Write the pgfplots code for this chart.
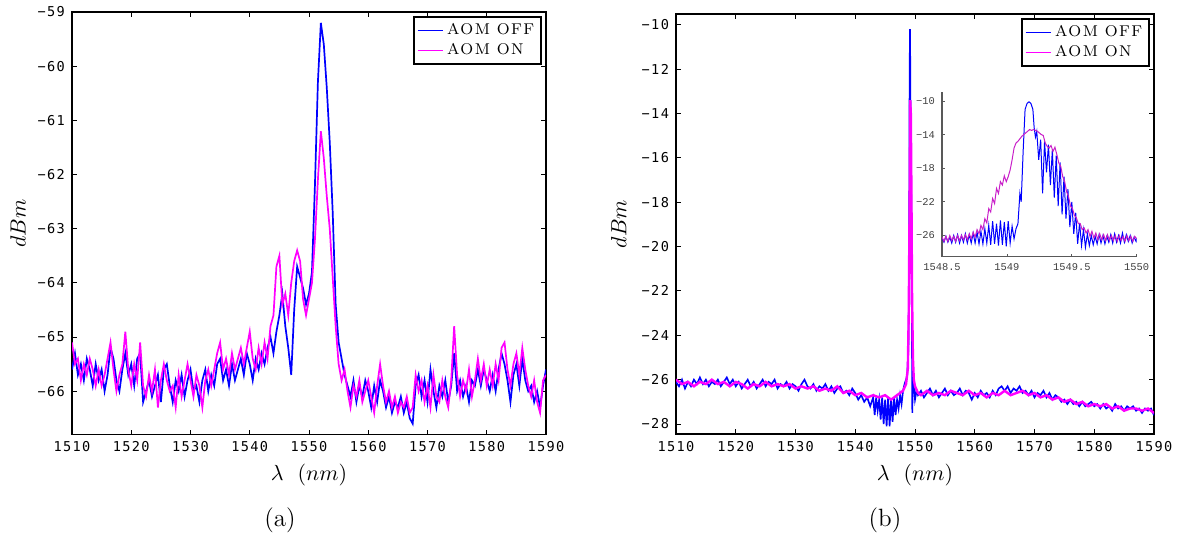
\documentclass[border=0pt]{standalone}
\usepackage{fontspec}
\usepackage{pgfplots}
\pgfplotsset{compat=1.18}
\newfontfamily\tickfont[LetterSpace=10]{DejaVu Sans Mono}
\newfontfamily\insetfont{Liberation Mono}
\newfontfamily\legfont[LetterSpace=9]{Latin Modern Roman}
\definecolor{aomoff}{RGB}{0,0,255}
\definecolor{aomon}{RGB}{255,0,255}
\definecolor{aomonin}{RGB}{200,30,200}

\pgfplotsset{
  spec/.style={
    scale only axis,
    axis line style={line width=0.7pt},
    tick style={black, line width=0.5pt},
    major tick length=2.5pt,
    tick align=inside,
    /pgf/number format/assume math mode=true,
    tick label style={font=\tickfont\fontsize{6.8}{8}\selectfont},
    xmin=1510, xmax=1590,
    xtick={1510,1520,...,1590},
    xticklabels={1510,1520,1530,1540,1550,1560,1570,1580,1590},
    xlabel={$\lambda\ \ (nm)$},
    ylabel={$dBm$},
    xlabel style={font=\fontsize{10.5}{12}\selectfont, at={(axis description cs:0.5,-0.097)}, anchor=center},
    legend style={at={(1,1)}, anchor=north east, xshift=-2pt, yshift=-2pt,
      draw=black, line width=0.8pt, inner sep=1.5pt, row sep=-1.5pt,
      font=\legfont\fontsize{7.8}{9}\selectfont, cells={anchor=west}},
    legend image code/.code={\draw[#1, line width=0.5pt] (0pt,0pt) -- (12.5pt,0pt);},
  }
}

\begin{document}
\begin{tikzpicture}
\path[use as bounding box] (0,0) rectangle (593.5pt,-269pt);

% (a) spectrum, 1510-1590 nm
\begin{axis}[spec,
  at={(36pt,-6pt)}, anchor=north west,
  width=237pt, height=211.25pt,
  ymin=-66.8, ymax=-59,
  ytick={-66,-65,...,-59},
  yticklabels={−66,−65,−64,−63,−62,−61,−60,−59},
  ylabel style={font=\fontsize{11}{12}\selectfont, at={(axis description cs:-0.114,0.5)}, anchor=center},
]
\addplot[aomoff, line width=0.85pt] coordinates {
(1510.0,-65.6) (1510.5,-65.3) (1511.0,-65.7) (1511.5,-65.5) (1512.0,-65.8) (1512.5,-65.4) (1513.0,-65.6) (1513.5,-65.9)
(1514.0,-65.5) (1514.5,-65.8) (1515.0,-65.6) (1515.5,-66.0) (1516.0,-65.7) (1516.5,-65.2) (1517.0,-65.4) (1517.5,-65.8)
(1518.0,-66.0) (1518.5,-65.6) (1519.0,-65.3) (1519.5,-65.7) (1520.0,-65.5) (1520.5,-65.9) (1521.0,-65.4) (1521.5,-65.3)
(1522.0,-66.2) (1522.5,-66.0) (1523.0,-65.8) (1523.5,-66.1) (1524.0,-65.9) (1524.5,-65.7) (1525.0,-66.2) (1525.5,-65.6)
(1526.0,-65.5) (1526.5,-65.9) (1527.0,-66.2) (1527.5,-65.8) (1528.0,-66.0) (1528.5,-65.7) (1529.0,-66.1) (1529.5,-65.8)
(1530.0,-65.6) (1530.5,-66.0) (1531.0,-65.9) (1531.5,-66.2) (1532.0,-65.8) (1532.5,-65.6) (1533.0,-66.0) (1533.5,-65.7)
(1534.0,-65.9) (1534.5,-65.5) (1535.0,-65.4) (1535.5,-65.8) (1536.0,-65.6) (1536.5,-65.9) (1537.0,-65.5) (1537.5,-65.8)
(1538.0,-65.6) (1538.5,-65.4) (1539.0,-65.7) (1539.5,-65.3) (1540.0,-65.5) (1540.5,-65.8) (1541.0,-65.4) (1541.5,-65.6)
(1542.0,-65.3) (1542.5,-65.5) (1543.0,-65.2) (1543.5,-65.0) (1544.0,-65.3) (1544.5,-64.9) (1545.0,-64.6) (1545.5,-64.2)
(1546.0,-64.8) (1546.5,-65.2) (1547.0,-65.7) (1547.5,-64.5) (1548.0,-63.7) (1548.5,-63.9) (1549.0,-64.1) (1549.5,-64.4)
(1550.0,-64.2) (1550.5,-63.8) (1551.0,-62.2) (1551.5,-60.3) (1552.0,-59.2) (1552.5,-59.6) (1553.0,-60.4) (1553.5,-61.4)
(1554.0,-62.7) (1554.5,-64.4) (1555.0,-65.1) (1555.5,-65.4) (1556.0,-65.7) (1556.5,-65.9) (1557.0,-66.1) (1557.5,-65.8)
(1558.0,-66.2) (1558.5,-65.9) (1559.0,-66.1) (1559.5,-65.8) (1560.0,-66.0) (1560.5,-66.3) (1561.0,-65.9) (1561.5,-66.2)
(1562.0,-65.8) (1562.5,-66.0) (1563.0,-66.3) (1563.5,-66.1) (1564.0,-66.4) (1564.5,-66.2) (1565.0,-66.3) (1565.5,-66.1)
(1566.0,-66.4) (1566.5,-66.2) (1567.0,-66.5) (1567.5,-66.6) (1568.0,-65.9) (1568.5,-65.7) (1569.0,-66.1) (1569.5,-65.8)
(1570.0,-66.2) (1570.5,-65.6) (1571.0,-66.0) (1571.5,-66.3) (1572.0,-65.9) (1572.5,-66.1) (1573.0,-65.8) (1573.5,-66.2)
(1574.0,-65.9) (1574.5,-65.3) (1575.0,-66.0) (1575.5,-65.8) (1576.0,-66.1) (1576.5,-65.9) (1577.0,-66.2) (1577.5,-65.8)
(1578.0,-65.9) (1578.5,-65.6) (1579.0,-65.9) (1579.5,-65.6) (1580.0,-65.8) (1580.5,-66.0) (1581.0,-65.7) (1581.5,-66.0)
(1582.0,-65.6) (1582.5,-65.3) (1583.0,-65.5) (1583.5,-65.8) (1584.0,-66.2) (1584.5,-65.7) (1585.0,-65.5) (1585.5,-65.9)
(1586.0,-65.4) (1586.5,-65.8) (1587.0,-66.0) (1587.5,-65.9) (1588.0,-66.2) (1588.5,-66.0) (1589.0,-66.3) (1589.5,-65.9)
(1590.0,-65.6)
};
\addlegendentry{AOM OFF}
\addplot[aomon, line width=0.85pt] coordinates {
(1510.0,-65.1) (1510.5,-65.5) (1511.0,-65.4) (1511.5,-65.8) (1512.0,-65.5) (1512.5,-65.7) (1513.0,-65.4) (1513.5,-65.6)
(1514.0,-65.9) (1514.5,-65.6) (1515.0,-65.9) (1515.5,-65.7) (1516.0,-65.4) (1516.5,-65.1) (1517.0,-65.6) (1517.5,-66.0)
(1518.0,-65.7) (1518.5,-65.5) (1519.0,-64.9) (1519.5,-65.6) (1520.0,-65.9) (1520.5,-65.5) (1521.0,-65.8) (1521.5,-65.1)
(1522.0,-65.9) (1522.5,-66.1) (1523.0,-65.7) (1523.5,-66.0) (1524.0,-65.6) (1524.5,-66.3) (1525.0,-65.8) (1525.5,-65.5)
(1526.0,-65.8) (1526.5,-66.0) (1527.0,-65.9) (1527.5,-66.3) (1528.0,-65.7) (1528.5,-66.1) (1529.0,-65.8) (1529.5,-65.5)
(1530.0,-65.8) (1530.5,-66.1) (1531.0,-65.7) (1531.5,-65.9) (1532.0,-66.3) (1532.5,-65.8) (1533.0,-65.6) (1533.5,-65.9)
(1534.0,-65.6) (1534.5,-65.3) (1535.0,-65.1) (1535.5,-65.6) (1536.0,-65.4) (1536.5,-65.7) (1537.0,-65.3) (1537.5,-65.6)
(1538.0,-65.4) (1538.5,-65.2) (1539.0,-65.5) (1539.5,-65.2) (1540.0,-64.9) (1540.5,-65.4) (1541.0,-65.6) (1541.5,-65.2)
(1542.0,-65.5) (1542.5,-65.1) (1543.0,-65.4) (1543.5,-64.8) (1544.0,-64.6) (1544.5,-63.7) (1545.0,-63.5) (1545.5,-64.4)
(1546.0,-64.2) (1546.5,-64.6) (1547.0,-64.0) (1547.5,-63.6) (1548.0,-63.4) (1548.5,-63.6) (1549.0,-64.3) (1549.5,-64.6)
(1550.0,-64.3) (1550.5,-64.0) (1551.0,-63.2) (1551.5,-62.1) (1552.0,-61.2) (1552.5,-61.7) (1553.0,-62.4) (1553.5,-63.0)
(1554.0,-63.9) (1554.5,-64.8) (1555.0,-65.5) (1555.5,-65.8) (1556.0,-65.6) (1556.5,-66.0) (1557.0,-66.3) (1557.5,-65.9)
(1558.0,-66.1) (1558.5,-65.8) (1559.0,-66.2) (1559.5,-66.0) (1560.0,-65.8) (1560.5,-66.1) (1561.0,-66.4) (1561.5,-65.9)
(1562.0,-65.5) (1562.5,-65.9) (1563.0,-66.2) (1563.5,-66.0) (1564.0,-66.3) (1564.5,-66.1) (1565.0,-66.4) (1565.5,-66.2)
(1566.0,-66.3) (1566.5,-66.1) (1567.0,-66.4) (1567.5,-66.3) (1568.0,-65.7) (1568.5,-66.0) (1569.0,-65.8) (1569.5,-66.2)
(1570.0,-65.9) (1570.5,-66.3) (1571.0,-65.7) (1571.5,-66.1) (1572.0,-66.2) (1572.5,-65.8) (1573.0,-66.1) (1573.5,-66.3)
(1574.0,-65.8) (1574.5,-64.8) (1575.0,-65.7) (1575.5,-66.1) (1576.0,-65.8) (1576.5,-66.0) (1577.0,-65.6) (1577.5,-66.1)
(1578.0,-65.8) (1578.5,-65.4) (1579.0,-65.8) (1579.5,-65.5) (1580.0,-65.9) (1580.5,-65.6) (1581.0,-65.9) (1581.5,-65.5)
(1582.0,-65.8) (1582.5,-65.2) (1583.0,-65.1) (1583.5,-65.6) (1584.0,-65.9) (1584.5,-65.5) (1585.0,-65.3) (1585.5,-65.7)
(1586.0,-65.2) (1586.5,-65.6) (1587.0,-65.9) (1587.5,-66.1) (1588.0,-65.8) (1588.5,-66.2) (1589.0,-66.4) (1589.5,-65.8)
(1590.0,-65.7)
};
\addlegendentry{AOM ON}
\end{axis}

% (b) spectrum with the peak
\begin{axis}[spec,
  at={(338pt,-7pt)}, anchor=north west,
  width=239pt, height=210pt,
  ymin=-28.45, ymax=-9.52,
  ytick={-28,-26,...,-10},
  yticklabels={−28,−26,−24,−22,−20,−18,−16,−14,−12,−10},
  ylabel style={font=\fontsize{11}{12}\selectfont, at={(axis description cs:-0.12,0.5)}, anchor=center},
]
\addplot[aomoff, line width=0.8pt] coordinates {
(1510,-26.1) (1510.5,-26.3) (1511,-26.0) (1511.5,-26.4) (1512,-26.1) (1512.5,-26.3) (1513,-26.0) (1513.5,-26.2)
(1514,-25.9) (1514.5,-26.2) (1515,-26.0) (1515.5,-26.3) (1516,-26.1) (1516.5,-26.2) (1517,-26.0) (1517.5,-26.3)
(1518,-26.1) (1518.5,-25.9) (1519,-26.2) (1519.5,-26.0) (1520,-26.3) (1520.5,-26.1) (1521,-26.4) (1521.5,-26.2)
(1522,-26.0) (1522.5,-26.3) (1523,-26.1) (1523.5,-26.4) (1524,-26.2) (1524.5,-26.0) (1525,-26.3) (1525.5,-26.1)
(1526,-26.2) (1526.5,-26.0) (1527,-26.4) (1527.5,-26.2) (1528,-26.3) (1528.5,-26.1) (1529,-26.4) (1529.5,-26.2)
(1530,-26.3) (1530.5,-26.5) (1531,-26.2) (1531.5,-26.0) (1532,-26.3) (1532.5,-26.4) (1533,-26.2) (1533.5,-26.5)
(1534,-26.3) (1534.5,-26.4) (1535,-26.2) (1535.5,-26.5) (1536,-26.3) (1536.5,-26.6) (1537,-26.4) (1537.5,-26.3)
(1538,-26.6) (1538.5,-26.5) (1539,-26.7) (1539.5,-26.4) (1540,-26.6) (1540.5,-26.9) (1541,-26.7) (1541.5,-27.0)
(1542,-26.8) (1542.5,-27.2) (1543,-26.8) (1543.25,-27.6) (1543.5,-26.8) (1543.75,-27.4) (1544,-26.9) (1544.25,-27.8)
(1544.5,-26.8) (1544.75,-28.0) (1545,-26.9) (1545.25,-28.1) (1545.5,-26.8) (1545.75,-28.1) (1546,-26.9) (1546.25,-27.9)
(1546.5,-26.8) (1546.75,-27.6) (1547,-26.9) (1547.25,-27.3) (1547.5,-26.7) (1547.75,-27.1) (1548,-26.5) (1548.25,-26.2)
(1548.5,-26.0) (1548.7,-25.8) (1548.9,-24.5) (1549.0,-22.0) (1549.1,-12.0) (1549.17,-10.2) (1549.25,-14.0) (1549.35,-17.0)
(1549.45,-22.0) (1549.55,-27.5) (1549.65,-25.5) (1549.8,-26.2) (1550,-26.9) (1550.25,-26.5) (1550.5,-26.7) (1551,-26.5)
(1551.5,-26.8) (1552,-26.6) (1552.5,-26.4) (1553,-26.7) (1553.5,-26.5) (1554,-26.8) (1554.5,-26.6) (1555,-26.4)
(1555.5,-26.7) (1556,-26.5) (1556.5,-26.7) (1557,-26.6) (1557.5,-26.4) (1558,-26.7) (1558.5,-26.5) (1559,-26.6)
(1559.5,-26.9) (1560,-26.6) (1560.5,-26.8) (1561,-26.5) (1561.5,-26.7) (1562,-26.6) (1562.5,-26.8) (1563,-26.5)
(1563.5,-26.7) (1564,-26.4) (1564.5,-26.3) (1565,-26.5) (1565.5,-26.3) (1566,-26.6) (1566.5,-26.4) (1567,-26.5)
(1567.5,-26.3) (1568,-26.6) (1568.5,-26.5) (1569,-26.7) (1569.5,-26.5) (1570,-26.8) (1570.5,-26.6) (1571,-26.7)
(1571.5,-26.5) (1572,-26.8) (1572.5,-26.6) (1573,-26.9) (1573.5,-26.7) (1574,-26.8) (1574.5,-27.0) (1575,-26.9)
(1575.5,-27.1) (1576,-26.9) (1576.5,-27.1) (1577,-27.0) (1577.5,-27.2) (1578,-27.0) (1578.5,-27.2) (1579,-27.1)
(1579.5,-27.0) (1580,-27.2) (1580.5,-27.1) (1581,-27.3) (1581.5,-27.1) (1582,-27.3) (1582.5,-27.2) (1583,-27.4)
(1583.5,-27.1) (1584,-27.3) (1584.5,-27.2) (1585,-27.4) (1585.5,-27.2) (1586,-27.3) (1586.5,-27.2) (1587,-27.4)
(1587.5,-27.3) (1588,-27.5) (1588.5,-27.3) (1589,-27.4) (1589.5,-27.3) (1590,-27.6)
};
\addlegendentry{AOM OFF}
\addplot[aomon, line width=1.2pt] coordinates {
(1510,-26.0) (1511,-26.2) (1512,-26.1) (1513,-26.3) (1514,-26.1) (1515,-26.2) (1516,-26.0) (1517,-26.2)
(1518,-26.1) (1519,-26.3) (1520,-26.1) (1521,-26.2) (1522,-26.4) (1523,-26.2) (1524,-26.3) (1525,-26.1)
(1526,-26.3) (1527,-26.2) (1528,-26.3) (1529,-26.2) (1530,-26.4) (1531,-26.3) (1532,-26.4) (1533,-26.3)
(1534,-26.5) (1535,-26.4) (1536,-26.5) (1537,-26.3) (1538,-26.6) (1539,-26.5) (1540,-26.7) (1541,-26.6)
(1542,-26.8) (1543,-26.7) (1544,-26.8) (1545,-26.7) (1546,-26.9) (1547,-26.7) (1548,-26.5) (1548.5,-26.2)
(1548.8,-25.5) (1548.95,-23.0) (1549.1,-18.0) (1549.2,-13.4) (1549.3,-14.0) (1549.4,-17.5) (1549.5,-22.0) (1549.65,-25.0)
(1549.8,-26.0) (1550,-26.3) (1550.5,-26.6) (1551,-26.7) (1552,-26.5) (1553,-26.7) (1554,-26.6) (1555,-26.7)
(1556,-26.5) (1557,-26.6) (1558,-26.7) (1559,-26.5) (1560,-26.7) (1561,-26.6) (1562,-26.8) (1563,-26.6)
(1564,-26.7) (1565,-26.5) (1566,-26.7) (1567,-26.6) (1568,-26.5) (1569,-26.7) (1570,-26.6) (1571,-26.8)
(1572,-26.7) (1573,-26.9) (1574,-26.8) (1575,-27.0) (1576,-26.9) (1577,-27.1) (1578,-27.0) (1579,-27.2)
(1580,-27.1) (1581,-27.2) (1582,-27.1) (1583,-27.3) (1584,-27.2) (1585,-27.4) (1586,-27.3) (1587,-27.3)
(1588,-27.4) (1589,-27.3) (1590,-27.5)
};
\addlegendentry{AOM ON}
\end{axis}

% inset: zoom on the peak
\begin{axis}[
  scale only axis,
  at={(471pt,-128.25pt)}, anchor=south west,
  width=97.35pt, height=82.4pt,
  xmin=1548.5, xmax=1550, ymin=-28.5, ymax=-8.9,
  axis lines=left,
  axis line style={-, draw=black!65, line width=0.6pt},
  tick style={draw=black!65, line width=0.4pt},
  major tick length=1.5pt, tick align=inside,
  xtick={1548.5,1549,1549.5,1550},
  xticklabels={1548.5,1549,1549.5,1550},
  ytick={-26,-22,-18,-14,-10},
  yticklabels={−26,−22,−18,−14,−10},
  /pgf/number format/assume math mode=true,
  tick label style={font=\insetfont\fontsize{5.2}{6}\selectfont, text=black!75},
]
\addplot[aomoff, line width=0.5pt] coordinates {
(1548.500,-26.3) (1548.515,-26.8) (1548.530,-26.1) (1548.545,-26.8) (1548.560,-26.2) (1548.575,-26.9) (1548.590,-26.0)
(1548.605,-26.8) (1548.620,-25.9) (1548.635,-26.9) (1548.650,-26.0) (1548.665,-26.8) (1548.680,-25.8) (1548.695,-26.9)
(1548.710,-25.9) (1548.725,-26.9) (1548.740,-25.7) (1548.755,-26.9) (1548.770,-25.6) (1548.785,-27.0) (1548.800,-25.5)
(1548.815,-27.0) (1548.830,-25.2) (1548.845,-26.9) (1548.860,-24.8) (1548.875,-27.1) (1548.890,-24.3) (1548.905,-27.0)
(1548.920,-24.6) (1548.935,-27.2) (1548.950,-24.2) (1548.965,-27.1) (1548.980,-24.4) (1548.995,-27.3) (1549.010,-24.3)
(1549.025,-26.9) (1549.040,-24.9) (1549.055,-26.4) (1549.070,-25.2) (1549.085,-24.6) (1549.100,-21.0) (1549.110,-22.0)
(1549.125,-16.0) (1549.140,-11.0) (1549.155,-10.3) (1549.170,-10.1) (1549.185,-10.3) (1549.200,-11.0) (1549.210,-13.2)
(1549.220,-14.3) (1549.230,-13.6) (1549.245,-17.0) (1549.260,-14.6) (1549.275,-21.0) (1549.290,-14.8) (1549.305,-18.5)
(1549.320,-15.2) (1549.335,-20.0) (1549.350,-15.8) (1549.365,-21.5) (1549.380,-16.5) (1549.395,-22.5) (1549.410,-17.3)
(1549.425,-23.5) (1549.440,-19.0) (1549.455,-24.0) (1549.470,-20.5) (1549.485,-25.0) (1549.500,-22.0) (1549.515,-25.8)
(1549.530,-23.3) (1549.545,-27.0) (1549.560,-24.5) (1549.575,-27.2) (1549.590,-25.3) (1549.605,-27.4) (1549.620,-25.8)
(1549.635,-27.2) (1549.650,-26.0) (1549.665,-27.1) (1549.680,-26.1) (1549.695,-27.0) (1549.710,-25.9) (1549.725,-26.9)
(1549.740,-26.0) (1549.755,-27.0) (1549.770,-26.1) (1549.785,-26.8) (1549.800,-25.9) (1549.815,-26.9) (1549.830,-25.8)
(1549.845,-26.8) (1549.860,-26.0) (1549.875,-26.9) (1549.890,-25.7) (1549.905,-26.8) (1549.920,-25.9) (1549.935,-26.7)
(1549.950,-26.0) (1549.965,-26.9) (1549.980,-26.2) (1549.995,-26.7) (1550.000,-26.3)
};
\addplot[aomonin, line width=0.5pt] coordinates {
(1548.500,-26.2) (1548.515,-26.7) (1548.530,-26.1) (1548.545,-26.7) (1548.560,-26.0) (1548.575,-26.6) (1548.590,-26.1)
(1548.605,-26.7) (1548.620,-26.0) (1548.635,-26.6) (1548.650,-26.0) (1548.665,-26.5) (1548.680,-25.9) (1548.695,-26.5)
(1548.710,-25.8) (1548.725,-26.4) (1548.740,-25.6) (1548.755,-26.2) (1548.770,-25.3) (1548.785,-25.8) (1548.800,-24.8)
(1548.815,-25.3) (1548.830,-24.0) (1548.845,-24.5) (1548.860,-22.8) (1548.875,-23.2) (1548.890,-21.6) (1548.905,-22.2)
(1548.920,-20.4) (1548.935,-21.0) (1548.950,-19.6) (1548.965,-20.0) (1548.980,-18.9) (1548.995,-19.6) (1549.010,-19.0)
(1549.025,-18.2) (1549.040,-17.0) (1549.055,-15.6) (1549.070,-15.0) (1549.085,-14.8) (1549.100,-14.5) (1549.115,-14.2)
(1549.130,-14.0) (1549.145,-13.8) (1549.160,-13.6) (1549.175,-13.4) (1549.190,-13.5) (1549.205,-13.4) (1549.220,-13.5)
(1549.235,-13.6) (1549.250,-13.8) (1549.265,-14.0) (1549.280,-14.1) (1549.295,-15.0) (1549.310,-15.4) (1549.325,-15.6)
(1549.340,-15.3) (1549.355,-16.0) (1549.370,-15.5) (1549.385,-16.4) (1549.400,-17.4) (1549.415,-17.8) (1549.430,-19.0)
(1549.445,-19.6) (1549.460,-20.8) (1549.475,-21.4) (1549.490,-22.5) (1549.505,-22.8) (1549.520,-23.6) (1549.535,-23.9)
(1549.550,-24.6) (1549.565,-24.6) (1549.580,-25.3) (1549.595,-25.1) (1549.610,-25.7) (1549.625,-25.3) (1549.640,-26.1)
(1549.655,-25.5) (1549.670,-26.3) (1549.685,-25.7) (1549.700,-26.5) (1549.715,-25.8) (1549.730,-26.5) (1549.745,-25.9)
(1549.760,-26.6) (1549.775,-25.9) (1549.790,-26.6) (1549.805,-26.0) (1549.820,-26.6) (1549.835,-26.0) (1549.850,-26.7)
(1549.865,-26.0) (1549.880,-26.6) (1549.895,-26.1) (1549.910,-26.7) (1549.925,-26.0) (1549.940,-26.6) (1549.955,-26.1)
(1549.970,-26.7) (1549.985,-26.1) (1550.000,-26.4)
};
\end{axis}

\node[font=\fontsize{12.5}{14}\selectfont] at (140pt,-260pt) {(a)};
\node[font=\fontsize{12.5}{14}\selectfont] at (442.5pt,-260pt) {(b)};
\end{tikzpicture}
\end{document}
